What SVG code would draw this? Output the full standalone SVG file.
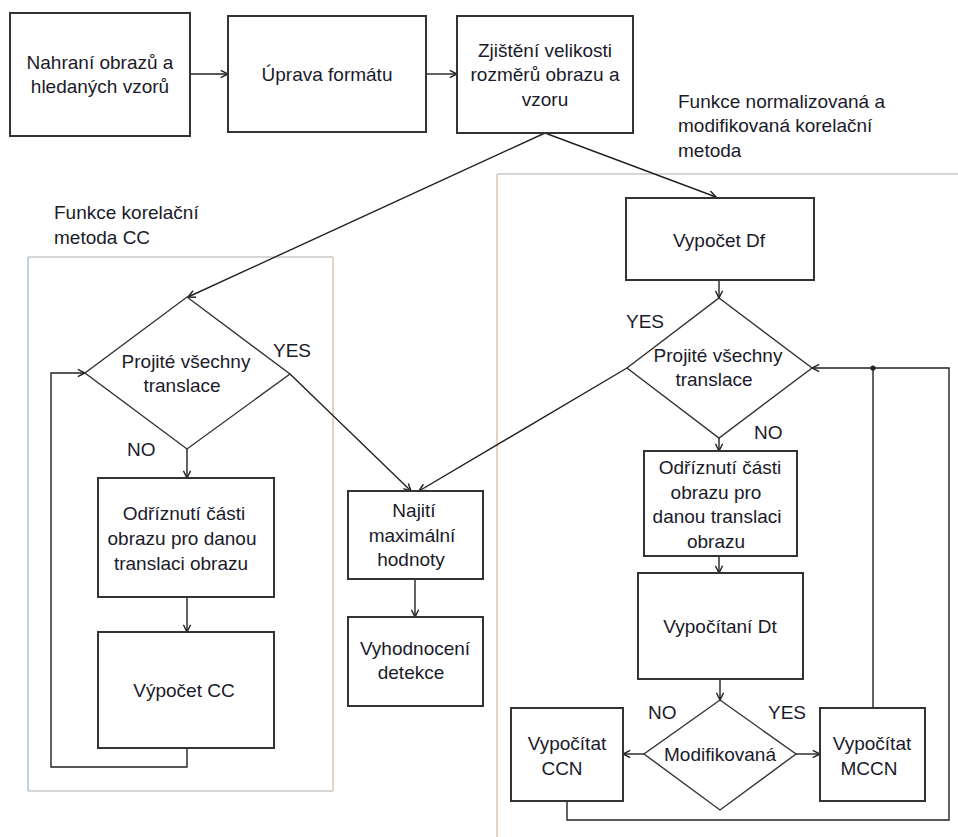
<svg xmlns="http://www.w3.org/2000/svg" width="958" height="837" viewBox="0 0 958 837">
  <style>
    .box { fill: #ffffff; stroke: #333333; stroke-width: 2; }
    .dia { fill: #ffffff; stroke: #333333; stroke-width: 1.4; }
    .lbl { font-family: "Liberation Sans", Arial, sans-serif; font-size: 19px; fill: #1a1a2a; }
    .mid { text-anchor: middle; }
    .con { fill: none; stroke: #222222; stroke-width: 1.4; }
    .arr { marker-end: url(#ah); }
  </style>
  <defs>
    <marker id="ah" viewBox="0 0 10 10" refX="9" refY="5" markerWidth="9" markerHeight="9" markerUnits="userSpaceOnUse" orient="auto">
      <path d="M1,1 L9,5 L1,9" fill="none" stroke="#222222" stroke-width="1.6"/>
    </marker>
  </defs>

  <rect width="958" height="837" fill="#ffffff"/>

  <!-- group frames -->
  <g id="frame-cc">
    <line x1="28" y1="257" x2="333" y2="257" stroke="#c9c9c9" stroke-width="1.5"/>
    <line x1="28" y1="791" x2="333" y2="791" stroke="#c9c9c9" stroke-width="1.5"/>
    <line x1="28" y1="257" x2="28" y2="791" stroke="#a9c5e3" stroke-width="1.5"/>
    <line x1="333" y1="257" x2="333" y2="791" stroke="#dfc3a5" stroke-width="1.5"/>
    <text class="lbl" x="54" y="219">Funkce korelační</text>
    <text class="lbl" x="54" y="244">metoda CC</text>
  </g>
  <g id="frame-norm">
    <line x1="497" y1="174" x2="958" y2="174" stroke="#c9c9c9" stroke-width="1.5"/>
    <line x1="497" y1="174" x2="497" y2="837" stroke="#dfc3a5" stroke-width="1.5"/>
    <text class="lbl" x="678" y="108">Funkce normalizovaná a</text>
    <text class="lbl" x="678" y="132">modifikovaná korelační</text>
    <text class="lbl" x="678" y="157">metoda</text>
  </g>

  <!-- connectors -->
  <g id="connectors">
    <line class="con arr" x1="190" y1="74" x2="228" y2="74"/>
    <line class="con arr" x1="426" y1="74" x2="457" y2="74"/>
    <line class="con arr" x1="545" y1="133" x2="188" y2="297"/>
    <line class="con arr" x1="545" y1="133" x2="716" y2="197"/>
    <!-- left branch -->
    <line class="con arr" x1="187" y1="449" x2="187" y2="478"/>
    <line class="con arr" x1="187" y1="597" x2="187" y2="632"/>
    <polyline class="con arr" points="187,748 187,767 51,767 51,373 85,373"/>
    <line class="con arr" x1="290" y1="374" x2="411" y2="491"/>
    <line class="con arr" x1="415" y1="579" x2="415" y2="617"/>
    <!-- right branch -->
    <line class="con arr" x1="719" y1="280" x2="719" y2="298" stroke="#8e99a8"/>
    <line class="con arr" x1="627" y1="368" x2="419" y2="491"/>
    <line class="con arr" x1="719" y1="438" x2="719" y2="451"/>
    <line class="con arr" x1="719" y1="556" x2="719" y2="573"/>
    <line class="con arr" x1="720" y1="679" x2="720" y2="700"/>
    <line class="con arr" x1="644" y1="754" x2="623" y2="754"/>
    <line class="con arr" x1="796" y1="754" x2="820" y2="754"/>
    <polyline class="con arr" points="873,708 873,368 812,368"/>
    <polyline class="con" points="567,801 567,820 949,820 949,368 873,368"/>
    <circle cx="873" cy="368" r="2.6" fill="#222222"/>
  </g>

  <!-- edge labels -->
  <g id="edge-labels">
    <text class="lbl" x="273" y="357">YES</text>
    <text class="lbl" x="127" y="456">NO</text>
    <text class="lbl" x="626" y="328">YES</text>
    <text class="lbl" x="754" y="439">NO</text>
    <text class="lbl" x="648" y="719">NO</text>
    <text class="lbl" x="768" y="719">YES</text>
  </g>

  <!-- top row -->
  <g id="n-load">
    <rect class="box" x="10" y="13" width="180" height="123"/>
    <text class="lbl mid" x="100" y="69">Nahraní obrazů a</text>
    <text class="lbl mid" x="100" y="93">hledaných vzorů</text>
  </g>
  <g id="n-format">
    <rect class="box" x="228" y="16" width="198" height="116"/>
    <text class="lbl mid" x="327" y="81">Úprava formátu</text>
  </g>
  <g id="n-size">
    <rect class="box" x="457" y="16" width="176" height="117"/>
    <text class="lbl mid" x="545" y="57">Zjištění velikosti</text>
    <text class="lbl mid" x="545" y="81">rozměrů obrazu a</text>
    <text class="lbl mid" x="545" y="106">vzoru</text>
  </g>

  <!-- CC branch -->
  <g id="n-cc-check">
    <polygon class="dia" points="187,297 290,374 187,449 85,373"/>
    <text class="lbl mid" x="186" y="368">Projité všechny</text>
    <text class="lbl mid" x="182" y="392">translace</text>
  </g>
  <g id="n-cc-crop">
    <rect class="box" x="98" y="478" width="176" height="119"/>
    <text class="lbl mid" x="184" y="520">Odříznutí části</text>
    <text class="lbl mid" x="182" y="545">obrazu pro danou</text>
    <text class="lbl mid" x="181" y="570">translaci obrazu</text>
  </g>
  <g id="n-cc-calc">
    <rect class="box" x="98" y="632" width="176" height="116"/>
    <text class="lbl mid" x="184" y="697">Výpočet CC</text>
  </g>

  <!-- result -->
  <g id="n-max">
    <rect class="box" x="348" y="491" width="135" height="88"/>
    <text class="lbl mid" x="414" y="517">Najití</text>
    <text class="lbl mid" x="412" y="542">maximální</text>
    <text class="lbl mid" x="411" y="566">hodnoty</text>
  </g>
  <g id="n-eval">
    <rect class="box" x="348" y="617" width="135" height="89"/>
    <text class="lbl mid" x="415" y="655">Vyhodnocení</text>
    <text class="lbl mid" x="411" y="679">detekce</text>
  </g>

  <!-- normalized / modified branch -->
  <g id="n-df">
    <rect class="box" x="626" y="198" width="188" height="82"/>
    <text class="lbl mid" x="719" y="247">Vypočet Df</text>
  </g>
  <g id="n-norm-check">
    <polygon class="dia" points="719,298 812,368 719,438 627,368"/>
    <text class="lbl mid" x="718" y="362">Projité všechny</text>
    <text class="lbl mid" x="714" y="386">translace</text>
  </g>
  <g id="n-norm-crop">
    <rect class="box" x="644" y="451" width="153" height="105"/>
    <text class="lbl mid" x="720" y="474">Odříznutí části</text>
    <text class="lbl mid" x="716" y="499">obrazu pro</text>
    <text class="lbl mid" x="717" y="523">danou translaci</text>
    <text class="lbl mid" x="716" y="548">obrazu</text>
  </g>
  <g id="n-dt">
    <rect class="box" x="638" y="573" width="165" height="106"/>
    <text class="lbl mid" x="720" y="633">Vypočítaní Dt</text>
  </g>
  <g id="n-mod">
    <polygon class="dia" points="720,700 796,754 720,810 644,754"/>
    <text class="lbl mid" x="720" y="761">Modifikovaná</text>
  </g>
  <g id="n-ccn">
    <rect class="box" x="511" y="708" width="112" height="93"/>
    <text class="lbl mid" x="567" y="750">Vypočítat</text>
    <text class="lbl mid" x="562" y="775">CCN</text>
  </g>
  <g id="n-mccn">
    <rect class="box" x="820" y="708" width="105" height="93"/>
    <text class="lbl mid" x="872" y="750">Vypočítat</text>
    <text class="lbl mid" x="869" y="775">MCCN</text>
  </g>
</svg>
